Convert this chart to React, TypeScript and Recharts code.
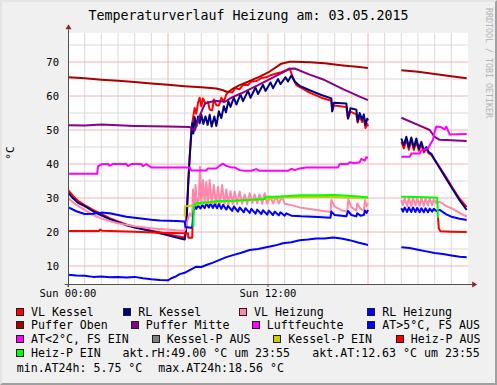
import React from 'react';
import { LineChart, Line, XAxis, YAxis, CartesianGrid, ReferenceLine, ReferenceDot } from 'recharts';

type Pt = [number, number | null];

// hours since Sun 00:00, value in °C / %
const vlKessel: Pt[] = [
  [0, 32.4], [0.3, 30.6], [0.6, 29.2], [1, 27.9], [1.5, 26.5], [2, 25.3], [2.5, 24.1], [3, 23.1], [3.5, 22.2],
  [4, 21.5], [4.5, 20.9], [5, 20.4], [5.5, 19.9], [6, 19.3], [6.5, 18.8], [7, 18.4],
  [7.1, 24], [7.2, 33], [7.3, 42], [7.4, 50], [7.5, 53.5], [7.6, 56.5], [7.7, 54.8], [7.8, 58], [7.9, 59.5],
  [8.0, 57], [8.1, 59.3], [8.25, 57.8], [8.4, 58.3], [8.5, 56], [8.65, 55.8], [8.75, 59], [8.9, 57.3],
  [9.05, 57.2], [9.2, 59.5], [9.35, 58.3], [9.5, 60.5], [9.65, 61.3], [9.85, 61], [10.05, 62.3], [10.3, 62],
  [10.5, 63.3], [10.8, 63.2], [11.0, 64.3], [11.3, 64.4], [11.6, 65.3], [11.9, 65.5], [12.2, 66.2], [12.5, 66.6],
  [12.8, 67], [13.1, 67.6], [13.3, 68.1], [13.45, 66], [13.7, 63.2], [14.5, 61], [15.2, 59.5], [15.8, 58.6],
  [15.85, 55.5], [15.95, 57.2], [16.7, 56.8], [16.8, 53.3], [16.95, 55.4], [17.3, 54.6], [17.38, 52.2],
  [17.5, 54], [17.65, 52.3], [17.75, 53.5], [17.85, 50.6], [17.95, 51.8], [18, 51.1],
  [19, null],
  [20, 46.5], [20.15, 44.6], [20.3, 47.2], [20.45, 44.2], [20.6, 47], [20.75, 44.1], [20.9, 46.7], [21.05, 43.9],
  [21.2, 45.8], [21.35, 43.4], [21.5, 44.5], [21.65, 43.1], [21.8, 42.7], [22, 41.3], [22.3, 39], [22.7, 36],
  [23.1, 32.8], [23.5, 29.8], [23.92, 27.3],
];

const rlKessel: Pt[] = [
  [0, 31.6], [0.3, 29.9], [0.6, 28.6], [1, 27.6], [1.5, 26.1], [2, 24.9], [2.5, 23.8], [3, 22.9], [3.5, 22],
  [4, 21.3], [4.5, 20.8], [5, 20.2], [5.5, 19.6], [6, 19], [6.5, 18.4], [7, 17.8],
  [7.08, 20], [7.15, 27], [7.22, 35], [7.3, 42], [7.38, 47.5], [7.45, 52], [7.52, 49], [7.6, 53.8], [7.7, 51],
  [7.8, 54], [7.9, 52], [8.0, 54.5], [8.12, 51.8], [8.25, 54], [8.38, 51.5], [8.5, 54.5], [8.62, 51], [8.78, 54],
  [8.9, 51.2], [9.05, 55.5], [9.2, 53.5], [9.35, 57], [9.48, 55.2], [9.62, 58.5], [9.75, 56.8], [9.95, 59.5],
  [10.1, 57.5], [10.35, 60.5], [10.5, 58.5], [10.8, 61.5], [10.95, 59.5], [11.25, 62.5], [11.4, 60.6],
  [11.7, 63.3], [11.85, 61.5], [12.15, 64], [12.3, 62.3], [12.6, 65], [12.75, 63.5], [13.05, 65.5], [13.2, 64.3],
  [13.4, 66], [13.6, 64.3], [13.9, 63], [14.5, 61.7], [15.2, 60.3], [15.8, 59.3], [15.85, 55.5], [15.95, 58],
  [16.7, 57.8], [16.8, 53.5], [16.95, 56.4], [17.3, 56], [17.38, 52.5], [17.5, 55], [17.65, 53], [17.75, 54.6],
  [17.85, 51.5], [17.95, 53.3], [18, 52.8],
  [19, null],
  [20, 47.5], [20.15, 45.5], [20.3, 48], [20.45, 45], [20.6, 47.8], [20.75, 44.8], [20.9, 47.5], [21.05, 44.5],
  [21.2, 46.5], [21.35, 44], [21.5, 45], [21.65, 43.5], [21.8, 43], [22, 41.2], [22.3, 38.8], [22.7, 35.6],
  [23.1, 32.4], [23.5, 29.3], [23.92, 26.5],
];

const vlHeizung: Pt[] = [
  [0, 29.9], [0.5, 28], [1, 26.5], [1.5, 25], [2, 24], [2.5, 23.2], [3, 22.6], [3.5, 22.1], [4, 21.7],
  [4.5, 21.4], [5, 21.1], [5.5, 20.9], [6, 20.7], [6.5, 20.5], [7, 20.4],
  [7.1, 22], [7.3, 25.5], [7.45, 24.5], [7.5, 32.4], [7.58, 26.5], [7.65, 33.8], [7.75, 27.5], [7.85, 30],
  [7.92, 39.2], [8.0, 28], [8.1, 35.3], [8.2, 28.5], [8.3, 34.8], [8.4, 28], [8.5, 35.3], [8.62, 28.3],
  [8.75, 33.8], [8.88, 28], [9.0, 33.3], [9.12, 28], [9.25, 33.8], [9.38, 28.2], [9.5, 32.5], [9.62, 28],
  [9.75, 32], [9.88, 28.2], [10.0, 31.9], [10.15, 28.2], [10.3, 31.9], [10.45, 28.3], [10.6, 31], [10.75, 28.2],
  [10.9, 31.4], [11.05, 28.5], [11.2, 31], [11.35, 28.5], [11.5, 31], [11.65, 28.3], [11.8, 31.4], [11.95, 28.4],
  [12.15, 30.4], [12.3, 28.4], [12.5, 30.4], [12.65, 28.4], [12.85, 30.4], [13.0, 28.3], [13.4, 27.9], [14, 27.1],
  [14.9, 26.5], [15.75, 25.9], [15.8, 29.4], [16, 27.5], [16.4, 26.4], [16.75, 26], [16.82, 29.6], [17, 27.3],
  [17.3, 26.3], [17.35, 28.4], [17.55, 26.8], [17.75, 26.3], [17.82, 29.4], [17.92, 27.6], [18, 28.4],
  [19, null],
  [20, 29.4], [20.1, 27.9], [20.2, 29.9], [20.35, 27.6], [20.45, 30], [20.6, 27.6], [20.7, 30], [20.85, 27.8],
  [20.95, 30], [21.1, 27.7], [21.2, 30], [21.35, 27.7], [21.45, 29.9], [21.6, 27.8], [21.7, 29.9], [21.85, 27.9],
  [21.95, 29.7], [22.1, 28.4], [22.3, 28.9], [22.7, 27.6], [23, 27], [23.5, 25.6], [23.92, 24.5],
];

const rlHeizung: Pt[] = [
  [0, 27.3], [0.5, 26.1], [1, 25.3], [1.5, 25.4], [2, 25.7], [2.5, 25.5], [3, 25], [3.5, 24.5], [4, 24.2],
  [4.5, 23.9], [5, 23.6], [5.5, 23.4], [6, 23.3], [6.5, 23.2], [7, 23.1], [7.05, 21.5], [7.45, 21.2],
  [7.52, 25.5], [7.6, 27.5], [7.7, 26.8], [7.8, 27.8], [7.95, 26.9], [8.05, 28], [8.2, 27], [8.3, 28.4],
  [8.45, 27.2], [8.55, 28.3], [8.7, 27.1], [8.8, 28.2], [8.95, 27], [9.05, 28.2], [9.2, 26.8], [9.3, 28],
  [9.5, 26.6], [9.6, 27.7], [9.85, 26.2], [9.95, 27.5], [10.2, 26], [10.3, 27.2], [10.55, 25.8], [10.65, 27],
  [10.9, 25.6], [11.0, 26.8], [11.25, 25.4], [11.35, 26.6], [11.6, 25.3], [11.7, 26.4], [11.95, 25.1],
  [12.05, 26.3], [12.3, 25], [12.4, 26], [12.65, 24.9], [12.75, 25.8], [13.0, 24.8], [13.1, 25.5], [13.4, 24.8],
  [14, 24.6], [15, 24.4], [15.75, 24.2], [15.8, 26], [16, 25], [16.7, 24.6], [16.8, 26.2], [17, 25], [17.3, 24.6],
  [17.35, 25.5], [17.55, 24.8], [17.75, 25], [17.82, 26.3], [17.92, 25.6], [18, 26.5],
  [19, null],
  [20, 27], [20.1, 26], [20.2, 27.2], [20.35, 25.9], [20.45, 27.2], [20.6, 25.9], [20.7, 27.2], [20.85, 25.9],
  [20.95, 27.1], [21.1, 25.8], [21.2, 27], [21.35, 25.8], [21.45, 27], [21.6, 25.8], [21.7, 26.9], [21.85, 26],
  [21.95, 26.8], [22.1, 26.2], [22.3, 26.5], [22.7, 25.2], [23, 24.5], [23.5, 23.9], [23.92, 23.5],
];

const pufferOben: Pt[] = [
  [0, 65.5], [1, 65.2], [2, 64.8], [3, 64.5], [4, 64.1], [5, 63.7], [6, 63.3], [7, 62.9], [8, 62.6], [8.9, 62.2],
  [9.3, 61.7], [9.6, 61.1], [9.9, 62.2], [10.3, 63.2], [10.8, 64.2], [11.5, 65.7], [12.1, 67.2], [12.8, 69.5],
  [13.3, 70.1], [13.6, 70.1], [14.5, 69.9], [15.4, 69.6], [16.5, 69], [17.5, 68.5], [18, 68.2],
  [19, null],
  [20, 67.6], [21, 67.1], [22, 66.5], [23, 65.8], [23.92, 65.2],
];

const pufferMitte: Pt[] = [
  [0, 51.4], [1, 51.3], [2, 51.6], [3, 51.4], [4, 51.2], [5, 51.1], [6, 51], [7.3, 50.9], [7.6, 49.8],
  [7.92, 54.4], [8.22, 57.8], [8.82, 58.6], [9.42, 58.3], [9.8, 59.5], [10.4, 60.8], [11.4, 63.2], [12.4, 65.7],
  [13.3, 68], [13.6, 68.1], [14.5, 66.3], [15.4, 64.7], [16.5, 62], [17.5, 59.8], [18, 58.8],
  [19, null],
  [20, 53.6], [21, 51.5], [21.7, 50], [22, 48], [22.3, 47.1], [23, 47], [23.92, 46.8],
];

const luftfeuchte: Pt[] = [
  [0, 37.1], [1.75, 37.1], [1.8, 39.3], [2.0, 39.9], [2.4, 40], [2.5, 39.5], [2.7, 40], [3.5, 40], [3.6, 39.4],
  [3.8, 40], [4.4, 40], [4.5, 39.4], [4.7, 40], [5, 39], [6, 39], [7.3, 39], [7.4, 38.1], [8.3, 38.1],
  [8.4, 38.7], [8.9, 38.7], [9.1, 39.5], [9.3, 40.1], [9.5, 39.4], [9.8, 39], [10, 39], [10.3, 38.2], [10.6, 38],
  [11, 38], [11.3, 38.5], [11.5, 38], [12.5, 38], [13.2, 38], [13.4, 38.6], [13.6, 38.2], [13.9, 38.7],
  [14.3, 39], [15.5, 39], [16.2, 39], [16.3, 40], [16.8, 40], [16.9, 40.5], [17.2, 40.2], [17.5, 40.5],
  [17.6, 41.5], [17.8, 41], [17.9, 42], [18, 41.8],
  [19, null],
  [20, 42.1], [20.5, 42.1], [20.6, 43.1], [21.1, 43.1], [21.2, 44], [21.6, 44.6], [21.9, 47.1], [22.0, 49.5],
  [22.1, 51], [22.4, 50.8], [22.6, 50.2], [22.7, 51], [22.9, 48.7], [23.92, 48.8],
];

const atWarm: Pt[] = [
  [0, 7.4], [0.5, 7.2], [1, 7.1], [1.5, 6.8], [2, 6.9], [2.5, 6.7], [3, 6.8], [3.5, 6.6], [4, 6.8], [4.5, 6.4],
  [5, 6.1], [5.5, 5.9], [6, 5.8], [6.2, 6.4], [6.5, 7.0], [6.7, 7.6], [7, 8.0], [7.3, 8.8], [7.7, 9.8],
  [8, 9.7], [8.3, 10.3], [8.7, 11.0], [9.1, 11.8], [9.5, 12.6], [9.9, 13.2], [10.4, 13.9], [10.9, 14.7],
  [11.4, 15.0], [11.9, 15.5], [12.4, 16.0], [12.9, 16.7], [13.4, 17.0], [13.9, 17.6], [14.4, 17.8], [14.9, 18.1],
  [15.4, 18.1], [15.9, 18.4], [16.4, 18.1], [16.9, 17.6], [17.4, 16.9], [17.9, 16.3], [18, 16.2],
  [19, null],
  [20, 15.5], [20.5, 15.3], [21, 14.8], [21.5, 14.3], [22, 13.8], [22.5, 13.5], [23, 13.1], [23.5, 12.7],
  [23.92, 12.6],
];

const atKalt: Pt[] = [];
const kesselPAus: Pt[] = [];

const kesselPEin: Pt[] = [
  [7.0, 24.6], [7.02, 27.6], [7.55, 27.8], [8, 28.3], [9, 28.8], [10, 29.1], [11, 29.4], [12, 29.8],
  [13, 30.2], [15, 30.4], [18, 30],
];

const heizPAus: Pt[] = [
  [0, 20.3], [1.85, 20.3], [1.92, 20.7], [2.05, 20.4], [4, 20.1], [5.5, 19.8], [7, 19.6], [7.2, 19.6],
  [7.22, 18.3], [7.45, 18.3], [7.47, 21.1], [7.52, 21.1],
  [15, null],
  [22.2, 24.3], [22.25, 21], [22.35, 20.2], [23, 20.1], [23.92, 20.0],
];

const heizPEin: Pt[] = [
  [7.52, 21.6], [7.55, 27.5], [7.65, 28.4], [8, 28.6], [8.5, 28.8], [9, 29.1], [10, 29.2], [11, 29.5],
  [11.8, 29.7], [11.85, 30.4], [12.5, 30.4], [13, 30.5], [14, 30.8], [15, 30.8], [16, 30.9], [17, 30.6],
  [18, 30.2],
  [19, null],
  [20, 30.4], [21, 30.3], [22.15, 30.1], [22.2, 24.3],
];

const seriesNames = [
  'VL Kessel', 'RL Kessel', 'VL Heizung', 'RL Heizung',
  'Puffer Oben', 'Puffer Mitte', 'Luftfeuchte', 'AT>5°C, FS AUS',
  'AT<2°C, FS EIN', 'Kessel-P AUS', 'Kessel-P EIN', 'Heiz-P AUS',
  'Heiz-P EIN',
];
const seriesColors = [
  '#FF0000', '#000080', '#FF88AA', '#0000FF',
  '#AA0000', '#880088', '#FF00FF', '#0000FF',
  '#FF00FF', '#808080', '#CCCC00', '#FF0000',
  '#00FF00',
];
const seriesPoints = [
  vlKessel, rlKessel, vlHeizung, rlHeizung, pufferOben, pufferMitte, luftfeuchte, atWarm,
  atKalt, kesselPAus, kesselPEin, heizPAus, heizPEin,
];

const hourTicks = [0, 12];
const hourTickLabels = ['Sun 00:00', 'Sun 12:00'];
const valueTicks = [10, 20, 30, 40, 50, 60, 70];

const aktRH = 49.0;
const aktAT = 12.63;
const minAT = 5.75;
const maxAT = 18.56;
const lastTime = '23:55';

// layout
const W = 497;
const H = 385;
const X_DOMAIN: [number, number] = [0, 24];
const Y_DOMAIN: [number, number] = [4.706, 78.53];
const minorHours = Array.from({ length: 23 }, (_, i) => i + 1).filter((h) => h % 6 !== 0);
const majorHours = [6, 12, 18];
const minorValues = [15, 25, 35, 45, 55, 65, 75];
const MINOR = '#DADADA';
const MAJOR = '#F2B2B2';

const MONO = '"DejaVu Sans Mono", monospace';
const legendRowY = [311.5, 325, 338.7, 352.7, 367.5];
const legendRow = [0, 0, 0, 0, 1, 1, 1, 1, 2, 2, 2, 2, 3];
const legendTextX = [31, 138.3, 254, 382.3, 31, 145.7, 266.7, 382.3, 31, 166.7, 288.3, 410.7, 31];

const toRows = (pts: Pt[]) => pts.map(([h, v]) => ({ h, v }));
const fmt = (n: number) => n.toFixed(2).padStart(5, ' ');

const rightArrow = (p: any) => (
  <polygon points={`${p.cx},${p.cy - 3} ${p.cx + 5},${p.cy} ${p.cx},${p.cy + 3}`} fill="#8B2323" />
);
const upArrow = (p: any) => (
  <polygon points={`${p.cx - 3},${p.cy} ${p.cx},${p.cy - 5} ${p.cx + 3},${p.cy}`} fill="#8B2323" />
);

function LegendBlock() {
  const textStyle: React.CSSProperties = {
    position: 'absolute',
    fontFamily: MONO,
    fontSize: 11.6,
    lineHeight: '14px',
    whiteSpace: 'pre',
    color: '#000',
  };
  const extra = [
    { text: `akt.rH:${fmt(aktRH)} °C um ${lastTime}`, x: 122.5, row: 3 },
    { text: `akt.AT:${fmt(aktAT)} °C um ${lastTime}`, x: 312.3, row: 3 },
    { text: `min.AT24h:${fmt(minAT)} °C`, x: 16.7, row: 4 },
    { text: `max.AT24h:${fmt(maxAT)} °C`, x: 158.3, row: 4 },
  ];
  return (
    <>
      {seriesNames.map((name, i) => {
        const cy = legendRowY[legendRow[i]];
        const tx = legendTextX[i];
        return (
          <React.Fragment key={name}>
            <div
              style={{
                position: 'absolute',
                left: tx - 15,
                top: cy - 4,
                width: 8,
                height: 8,
                boxSizing: 'border-box',
                border: '1px solid #202020',
                background: seriesColors[i],
              }}
            />
            <div style={{ ...textStyle, left: tx, top: cy - 7 }}>{name}</div>
          </React.Fragment>
        );
      })}
      {extra.map((e) => (
        <div key={e.text} style={{ ...textStyle, left: e.x, top: legendRowY[e.row] - 7 }}>
          {e.text}
        </div>
      ))}
    </>
  );
}

export default function App() {
  return (
    <div
      style={{
        position: 'absolute',
        left: 0,
        top: 0,
        width: W,
        height: H,
        boxSizing: 'border-box',
        background: '#F0F0F0',
        borderTop: '2px solid #E4E4E4',
        borderLeft: '2px solid #E4E4E4',
        borderRight: '2px solid #A0A0A0',
        borderBottom: '2px solid #A0A0A0',
        overflow: 'hidden',
      }}
    >
      <div style={{ position: 'absolute', left: -2, top: -2 }}>
        <LineChart width={W} height={H} margin={{ top: 33, right: 29, bottom: 81, left: 8 }}>
          <CartesianGrid vertical={false} horizontal={false} fill="#FFFFFF" fillOpacity={1} />
          <XAxis
            dataKey="h"
            type="number"
            domain={X_DOMAIN}
            ticks={hourTicks}
            allowDataOverflow
            tickFormatter={(v: number) => hourTickLabels[hourTicks.indexOf(v)] ?? ''}
            axisLine={false}
            tickLine={{ stroke: '#555' }}
            tickSize={3}
            tickMargin={3}
            height={20}
            tick={{ fontFamily: MONO, fontSize: 10.5, fill: '#000' }}
          />
          <YAxis
            type="number"
            domain={Y_DOMAIN}
            ticks={valueTicks}
            allowDataOverflow
            axisLine={false}
            tickLine={false}
            tickSize={3}
            tickMargin={6}
            width={60}
            tick={{ fontFamily: MONO, fontSize: 10.5, fill: '#000' }}
          />
          {minorValues.map((v) => (
            <ReferenceLine key={`hv${v}`} y={v} stroke={MINOR} />
          ))}
          {minorHours.map((h) => (
            <ReferenceLine key={`mi${h}`} x={h} stroke={MINOR} />
          ))}
          {valueTicks.map((v) => (
            <ReferenceLine key={`hm${v}`} y={v} stroke={MAJOR} />
          ))}
          {majorHours.map((h) => (
            <ReferenceLine key={`ma${h}`} x={h} stroke={MAJOR} />
          ))}
          {seriesPoints.map((pts, i) =>
            pts.length ? (
              <Line
                key={seriesNames[i]}
                data={toRows(pts)}
                dataKey="v"
                name={seriesNames[i]}
                type="linear"
                stroke={seriesColors[i]}
                strokeWidth={2}
                strokeLinejoin="round"
                dot={false}
                activeDot={false}
                connectNulls={false}
                isAnimationActive={false}
              />
            ) : null,
          )}
          <ReferenceLine
            segment={[{ x: -0.2, y: 4.56 }, { x: 24.25, y: 4.56 }]}
            stroke="#505050"
            ifOverflow="visible"
          />
          <ReferenceLine
            segment={[{ x: 0.03, y: 3.8 }, { x: 0.03, y: 79.6 }]}
            stroke="#505050"
            ifOverflow="visible"
          />
          <ReferenceDot x={24.25} y={4.56} r={0} ifOverflow="visible" shape={rightArrow} />
          <ReferenceDot x={0.03} y={79.6} r={0} ifOverflow="visible" shape={upArrow} />
        </LineChart>
      </div>
      <div
        style={{
          position: 'absolute',
          left: -2,
          top: 5,
          width: W,
          textAlign: 'center',
          fontFamily: MONO,
          fontSize: 13.3,
          lineHeight: '18px',
          color: '#000',
          whiteSpace: 'pre',
        }}
      >
        Temperaturverlauf Heizung am: 03.05.2015
      </div>
      <div
        style={{
          position: 'absolute',
          left: 11 - 2 - 15,
          top: 153 - 2 - 7,
          width: 30,
          height: 14,
          lineHeight: '14px',
          textAlign: 'center',
          fontFamily: MONO,
          fontSize: 11,
          transform: 'rotate(-90deg)',
          color: '#000',
        }}
      >
        °C
      </div>
      <div
        style={{
          position: 'absolute',
          left: 484 - 2,
          top: 8 - 2,
          writingMode: 'vertical-rl',
          fontFamily: MONO,
          fontSize: 8.3,
          lineHeight: '9px',
          color: '#B4B4B4',
          whiteSpace: 'pre',
        }}
      >
        RRDTOOL / TOBI OETIKER
      </div>
      <div style={{ position: 'absolute', left: -2, top: -2 }}>
        <LegendBlock />
      </div>
    </div>
  );
}
